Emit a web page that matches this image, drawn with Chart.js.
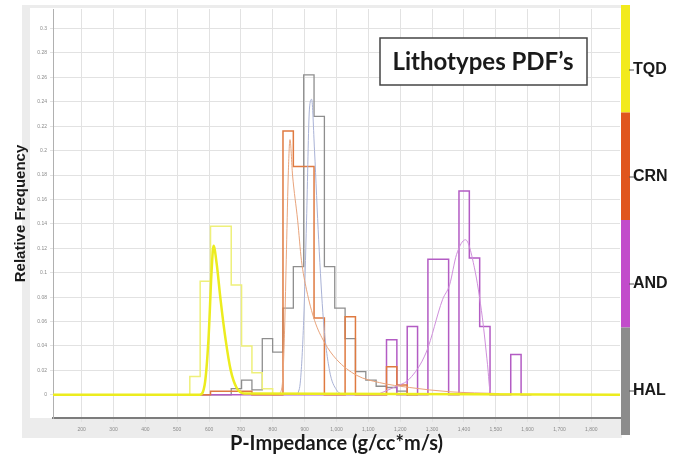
<!DOCTYPE html>
<html>
<head>
<meta charset="utf-8">
<script src="https://cdn.jsdelivr.net/npm/chart.js@4.4.1/dist/chart.umd.min.js"></script>
<style>
  html, body { margin: 0; padding: 0; background: #fff; }
</style>
</head>
<body>
<canvas id="myChart" width="683" height="458"></canvas>
<script>
// lithotypes shown on the side colour bar
const lithotypes = ['TQD', 'CRN', 'AND', 'HAL'];
const lithoColors = ['#f2ea1c', '#e0561e', '#c24ccb', '#8c8c8c'];

// histogram bins (P-impedance)
const binStart = 507;
const binWidth = 32.5;

// relative frequency per bin, starting at binStart
const tqdCounts = [0, 0.015, 0.093, 0.138, 0.138, 0.090, 0.040, 0.018, 0.005, 0];
const crnCounts = [0, 0, 0, 0.003, 0.003, 0.003, 0.003, 0, 0, 0, 0.216, 0.187, 0.187, 0.063, 0, 0, 0.064, 0, 0, 0, 0.023, 0.008, 0];
const andCounts = [0, 0, 0, 0, 0, 0, 0, 0, 0, 0, 0, 0, 0, 0, 0, 0, 0, 0, 0, 0, 0.045, 0, 0.056, 0, 0.111, 0.111, 0, 0.167, 0.112, 0.056, 0, 0, 0.033, 0];
const halCounts = [0, 0, 0, 0, 0, 0.005, 0.012, 0.004, 0.046, 0.035, 0.071, 0.105, 0.262, 0.228, 0.105, 0.071, 0.046, 0.019, 0.012, 0.007, 0.006, 0.003, 0];

// fitted PDF curves
const tqdPdfX = [110, 570, 586, 598, 608, 614, 624, 636, 652, 668, 686, 711, 1890];
const tqdPdfY = [0, 0, 0.008, 0.045, 0.102, 0.122, 0.107, 0.078, 0.045, 0.020, 0.006, 0.001, 0];
const crnPdfX = [821, 831, 837, 843, 849, 854, 862, 878, 890, 906, 931, 962, 1000, 1063, 1135, 1229, 1355, 1511];
const crnPdfY = [0, 0.012, 0.053, 0.119, 0.184, 0.209, 0.180, 0.143, 0.110, 0.086, 0.061, 0.043, 0.029, 0.016, 0.010, 0.006, 0.0025, 0.001];
const andPdfX = [1135, 1188, 1229, 1282, 1333, 1355, 1377, 1405, 1433, 1458, 1474, 1483, 1496];
const andPdfY = [0.001, 0.007, 0.013, 0.035, 0.078, 0.090, 0.115, 0.127, 0.104, 0.063, 0.025, 0.002, 0];
const halPdfX = [878, 887, 897, 906, 915, 922, 931, 944, 959, 978, 1000, 1025];
const halPdfY = [0, 0.012, 0.061, 0.143, 0.234, 0.242, 0.200, 0.127, 0.061, 0.020, 0.004, 0];

// axis ticks
const xTicks = [200, 300, 400, 500, 600, 700, 800, 900, 1000, 1100, 1200, 1300, 1400, 1500, 1600, 1700, 1800];
const yTicks = [0, 0.02, 0.04, 0.06, 0.08, 0.1, 0.12, 0.14, 0.16, 0.18, 0.2, 0.22, 0.24, 0.26, 0.28, 0.3];

function histPoints(counts) {
  const pts = counts.map((h, i) => ({ x: binStart + i * binWidth, y: h }));
  pts.push({ x: binStart + counts.length * binWidth, y: 0 });
  return pts;
}

function curvePoints(xs, ys) {
  return xs.map((x, i) => ({ x: x, y: ys[i] }));
}

const frame = {
  id: 'frame',
  beforeDraw(chart) {
    const c = chart.ctx;
    c.save();
    c.fillStyle = '#ffffff';
    c.fillRect(0, 0, chart.width, chart.height);
    c.fillStyle = '#ececec';
    c.fillRect(22, 5, 600, 433);
    c.fillStyle = '#ffffff';
    c.fillRect(30, 8, 592, 410);
    c.restore();
  },
  afterDraw(chart) {
    const c = chart.ctx;
    c.save();
    // title box
    c.fillStyle = '#ffffff';
    c.fillRect(380, 38, 207, 47);
    c.strokeStyle = '#444444';
    c.lineWidth = 1.5;
    c.strokeRect(380, 38, 207, 47);
    c.fillStyle = '#1a1a1a';
    c.font = 'bold 24px Lato';
    c.textAlign = 'center';
    c.textBaseline = 'middle';
    c.fillText('Lithotypes PDF\u2019s', 483, 62);

    // side colour bar
    const top = 5, segH = 107.5;
    lithotypes.forEach((name, i) => {
      c.fillStyle = lithoColors[i];
      c.fillRect(621, top + i * segH, 9, segH);
      const ly = 70 + i * 107;
      c.strokeStyle = '#555';
      c.lineWidth = 1;
      c.beginPath();
      c.moveTo(629, ly);
      c.lineTo(634, ly);
      c.stroke();
      c.fillStyle = '#1a1a1a';
      c.font = 'bold 16px "Liberation Sans"';
      c.textAlign = 'left';
      c.fillText(name, 633, ly);
    });
    c.restore();
  }
};

new Chart(document.getElementById('myChart'), {
  type: 'line',
  data: {
    datasets: [
      { label: 'TQD pdf', data: curvePoints(tqdPdfX, tqdPdfY), borderColor: '#ecec1e', borderWidth: 2.5, cubicInterpolationMode: 'monotone', order: 0 },
      { label: 'CRN pdf', data: curvePoints(crnPdfX, crnPdfY), borderColor: '#e9a47c', borderWidth: 1, cubicInterpolationMode: 'monotone', order: 1 },
      { label: 'HAL pdf', data: curvePoints(halPdfX, halPdfY), borderColor: '#a9b2d6', borderWidth: 1, cubicInterpolationMode: 'monotone', order: 1 },
      { label: 'AND pdf', data: curvePoints(andPdfX, andPdfY), borderColor: '#d08fdc', borderWidth: 1, cubicInterpolationMode: 'monotone', order: 1 },
      { label: 'TQD', data: histPoints(tqdCounts), borderColor: '#eef07a', borderWidth: 1.5, stepped: 'before', order: 3 },
      { label: 'CRN', data: histPoints(crnCounts), borderColor: '#df7a40', borderWidth: 1.5, stepped: 'before', order: 2 },
      { label: 'AND', data: histPoints(andCounts), borderColor: '#b35cc4', borderWidth: 1.5, stepped: 'before', order: 2 },
      { label: 'HAL', data: histPoints(halCounts), borderColor: '#8e8e8e', borderWidth: 1.3, stepped: 'before', order: 4 }
    ]
  },
  options: {
    responsive: false,
    animation: false,
    layout: { padding: { left: 8, right: 63, top: 9, bottom: 0 } },
    elements: { point: { radius: 0 }, line: { tension: 0 } },
    plugins: { legend: { display: false }, tooltip: { enabled: false } },
    scales: {
      x: {
        type: 'linear',
        min: 110,
        max: 1890,
        afterBuildTicks: s => { s.ticks = xTicks.map(v => ({ value: v })); },
        afterFit: s => { s.height = 40; },
        ticks: { font: { size: 5 }, color: '#8a8a8a', padding: 5, maxRotation: 0, autoSkip: false },
        grid: { color: '#e2e2e2', tickLength: 4 },
        border: { color: '#7c7c7c', width: 2 },
        title: {
          display: true,
          text: 'P-Impedance (g/cc*m/s)',
          color: '#1a1a1a',
          font: { family: 'Lato', size: 20, weight: 'bold' },
          padding: { top: 0, bottom: 2 }
        }
      },
      y: {
        min: -0.019,
        max: 0.316,
        afterBuildTicks: s => { s.ticks = yTicks.map(v => ({ value: v })); },
        afterFit: s => { s.width = 45; },
        ticks: { font: { size: 5 }, color: '#8a8a8a', padding: 3, callback: v => String(+v.toFixed(2)) },
        grid: { color: '#e2e2e2', tickLength: 3 },
        border: { color: '#b0b0b0', width: 1 },
        title: {
          display: true,
          text: 'Relative Frequency',
          color: '#1a1a1a',
          font: { family: 'Liberation Sans', size: 15, weight: 'bold' },
          padding: { top: 4, bottom: 0 }
        }
      }
    }
  },
  plugins: [frame]
});
</script>
</body>
</html>
